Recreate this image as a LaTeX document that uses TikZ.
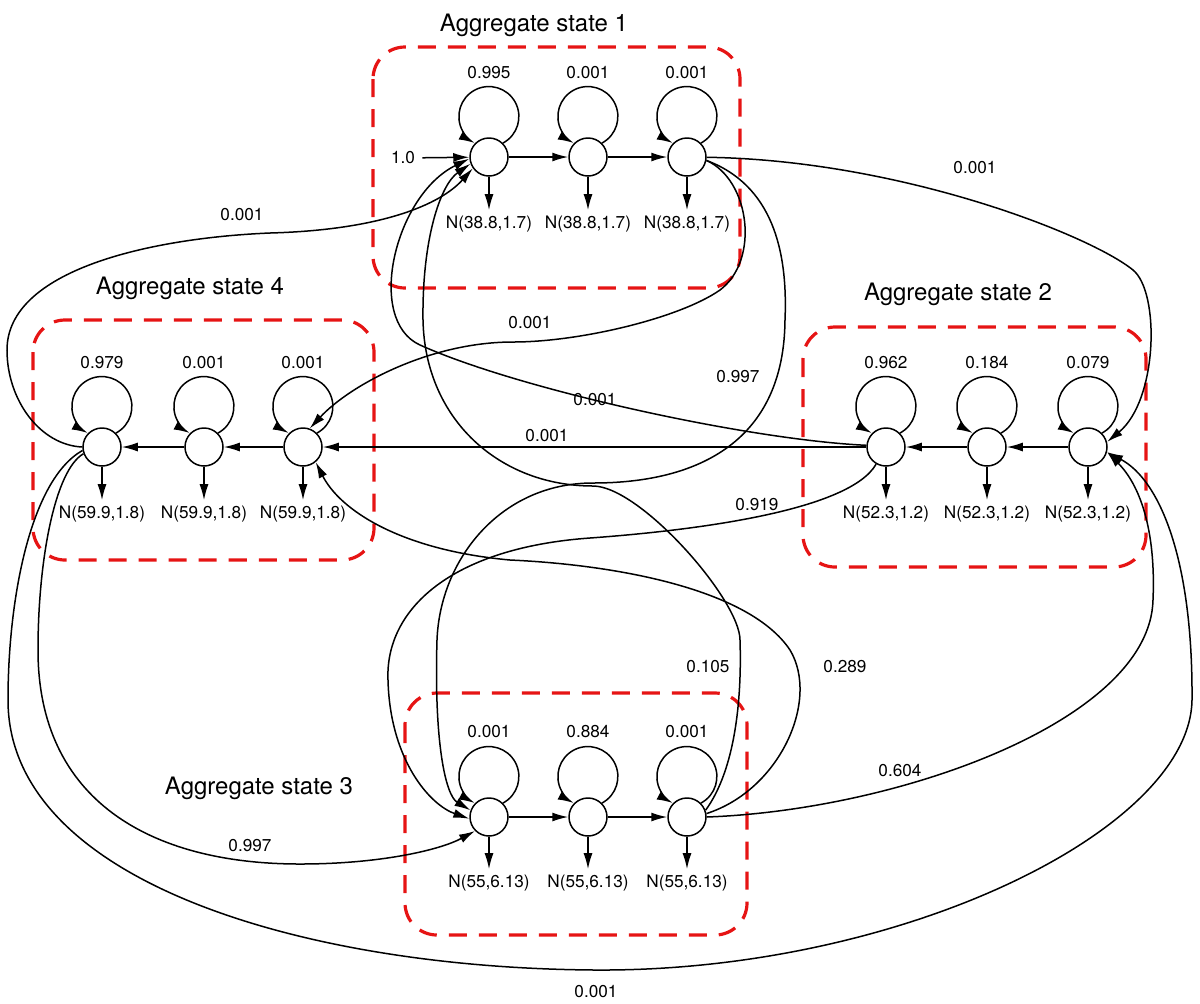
\documentclass[tikz,border=0pt]{standalone}
\usepackage{fontspec}
\setmainfont{TeX Gyre Heros}
\usetikzlibrary{arrows.meta}
\definecolor{boxred}{RGB}{230,20,20}

\begin{document}
\begin{tikzpicture}[x=0.5pt,y=-0.5pt,line width=0.75pt,
    >={Latex[length=8pt,width=4.5pt]},
    every node/.style={font=\fontsize{8.6}{10}\selectfont},
    sub/.style={
% The shape:
circle,
% The size:
minimum size=19pt, inner sep=0pt,
% The border:
draw, line width=0.75pt,
},
    emit/.style={inner sep=2.5pt},
    aggbox/.style={
% The border:
draw=boxred, line width=1.6pt, dash pattern=on 9pt off 6pt,
% The corners:
rounded corners=16pt,
},
    title/.style={font=\fontsize{12}{14}\selectfont},
    selfloop/.style={to path={(\tikztostart.45) arc[start angle=62,end angle=-242,radius=30]}},
]
  \useasboundingbox (0,0) rectangle (1200,1003);

  \draw[aggbox] (373,47) rectangle (740,288);
  \draw[aggbox] (803,327) rectangle (1146,567);
  \draw[aggbox] (405,693) rectangle (747,935);
  \draw[aggbox] (33,320) rectangle (374,560);

  \node[title] (T1) at (534,25) {Aggregate state 1};
  \node[title] (T2) at (958,294) {Aggregate state 2};
  \node[title] (T3) at (259,788) {Aggregate state 3};
  \node[title] (T4) at (190,288) {Aggregate state 4};

  % aggregate state 1
  \node[sub] (S11) at (489,157) {};
  \node[sub] (S12) at (588,157) {};
  \node[sub] (S13) at (687,157) {};
  \node (V11) at (489,73) {0.995};
  \node (V12) at (588,73) {0.001};
  \node (V13) at (687,73) {0.001};
  \node[emit] (N11) at (489,224) {N(38.8,1.7)};
  \node[emit] (N12) at (588,224) {N(38.8,1.7)};
  \node[emit] (N13) at (687,224) {N(38.8,1.7)};

  % aggregate state 2
  \node[sub] (S21) at (886,447) {};
  \node[sub] (S22) at (987,447) {};
  \node[sub] (S23) at (1088,447) {};
  \node (V21) at (886,363) {0.962};
  \node (V22) at (987,363) {0.184};
  \node (V23) at (1088,363) {0.079};
  \node[emit] (N21) at (886,514) {N(52.3,1.2)};
  \node[emit] (N22) at (987,514) {N(52.3,1.2)};
  \node[emit] (N23) at (1088,514) {N(52.3,1.2)};

  % aggregate state 3
  \node[sub] (S31) at (489,817) {};
  \node[sub] (S32) at (588,817) {};
  \node[sub] (S33) at (687,817) {};
  \node (V31) at (489,732) {0.001};
  \node (V32) at (588,732) {0.884};
  \node (V33) at (687,732) {0.001};
  \node[emit] (N31) at (489,883) {N(55,6.13)};
  \node[emit] (N32) at (588,883) {N(55,6.13)};
  \node[emit] (N33) at (687,883) {N(55,6.13)};

  % aggregate state 4
  \node[sub] (S41) at (102,447) {};
  \node[sub] (S42) at (204,447) {};
  \node[sub] (S43) at (303,447) {};
  \node (V41) at (102,363) {0.979};
  \node (V42) at (204,363) {0.001};
  \node (V43) at (303,363) {0.001};
  \node[emit] (N41) at (102,514) {N(59.9,1.8)};
  \node[emit] (N42) at (204,514) {N(59.9,1.8)};
  \node[emit] (N43) at (303,514) {N(59.9,1.8)};

  \node (init) at (403,158) {1.0};
  \draw [->] (init) -- (S11);

  \draw [->] (S11) -- (S12);
  \draw [->] (S12) -- (S13);
  \draw [->] (S23) -- (S22);
  \draw [->] (S22) -- (S21);
  \draw [->] (S31) -- (S32);
  \draw [->] (S32) -- (S33);
  \draw [->] (S43) -- (S42);
  \draw [->] (S42) -- (S41);

  \draw [->] (S11) to[selfloop] (S11);
  \draw [->] (S12) to[selfloop] (S12);
  \draw [->] (S13) to[selfloop] (S13);
  \draw [->] (S21) to[selfloop] (S21);
  \draw [->] (S22) to[selfloop] (S22);
  \draw [->] (S23) to[selfloop] (S23);
  \draw [->] (S31) to[selfloop] (S31);
  \draw [->] (S32) to[selfloop] (S32);
  \draw [->] (S33) to[selfloop] (S33);
  \draw [->] (S41) to[selfloop] (S41);
  \draw [->] (S42) to[selfloop] (S42);
  \draw [->] (S43) to[selfloop] (S43);

  \draw [->] (S11) -- (N11);
  \draw [->] (S12) -- (N12);
  \draw [->] (S13) -- (N13);
  \draw [->] (S21) -- (N21);
  \draw [->] (S22) -- (N22);
  \draw [->] (S23) -- (N23);
  \draw [->] (S31) -- (N31);
  \draw [->] (S32) -- (N32);
  \draw [->] (S33) -- (N33);
  \draw [->] (S41) -- (N41);
  \draw [->] (S42) -- (N42);
  \draw [->] (S43) -- (N43);

  % transitions between aggregate states
  \draw [->] (S13) .. controls (900,160) and (1090,235) .. (1133,270)
    .. controls (1160,292) and (1158,400) .. (S23.15);
  \node (P1323) at (975,168) {0.001};
  \draw [->] (S13.-10) .. controls (750,180) and (760,260) .. (720,290)
    .. controls (680,318) and (580,342) .. (513,342)
    .. controls (430,342) and (350,385) .. (S43.70);
  \node (P1343) at (530,323) {0.001};
  \draw [->] (S13.-10) .. controls (772,185) and (788,250) .. (785,320)
    .. controls (784,440) and (700,483) .. (593,483)
    .. controls (500,483) and (440,560) .. (437,640)
    .. controls (434,740) and (445,795) .. (S31.160);
  \node (P1331) at (738,377) {0.997};
  \draw [->] (S33.20) .. controls (735,770) and (742,700) .. (740,640)
    .. controls (740,600) and (640,486) .. (593,486)
    .. controls (500,486) and (425,420) .. (423,320)
    .. controls (422,240) and (440,185) .. (S11.200);
  \node (P3311) at (708,667) {0.105};
  \draw [->] (S33.10) .. controls (780,790) and (820,700) .. (790,650)
    .. controls (750,590) and (620,565) .. (510,560)
    .. controls (400,550) and (340,510) .. (S43.-50);
  \node (P3343) at (845,667) {0.289};
  \draw [->] (S33.east) .. controls (900,810) and (1150,720) .. (1153,600)
    .. controls (1156,530) and (1140,485) .. (S23.-15);
  \node (P3323) at (900,771) {0.604};
  \draw [->] (S21) -- (S43);
  \node (P2143) at (547,436) {0.001};
  \draw [->] (S21.175) .. controls (750,440) and (520,390) .. (420,345)
    .. controls (365,320) and (395,195) .. (S11.185);
  \node (P2111) at (595,400) {0.001};
  \draw [->] (S21.240) .. controls (850,510) and (700,530) .. (590,538)
    .. controls (450,548) and (385,610) .. (388,680)
    .. controls (390,760) and (430,805) .. (S31.185);
  \node (P2131) at (757,505) {0.919};
  \draw [->] (S41.west) .. controls (40,445) and (7,400) .. (7,350)
    .. controls (7,270) and (150,238) .. (270,233)
    .. controls (380,230) and (440,205) .. (S11.215);
  \node (P4111) at (242,215) {0.001};
  \draw [->] (S41.200) .. controls (55,470) and (38,560) .. (38,650)
    .. controls (38,800) and (150,864) .. (300,864)
    .. controls (380,864) and (440,850) .. (S31.225);
  \node (P4131) at (250,846) {0.997};
  \draw [->] (S41.190) .. controls (30,480) and (8,600) .. (8,700)
    .. controls (8,880) and (300,968) .. (595,970)
    .. controls (900,972) and (1190,830) .. (1192,700)
    .. controls (1193,560) and (1160,480) .. (S23.-15);
  \node (P4123) at (596,992) {0.001};

\end{tikzpicture}
\end{document}
